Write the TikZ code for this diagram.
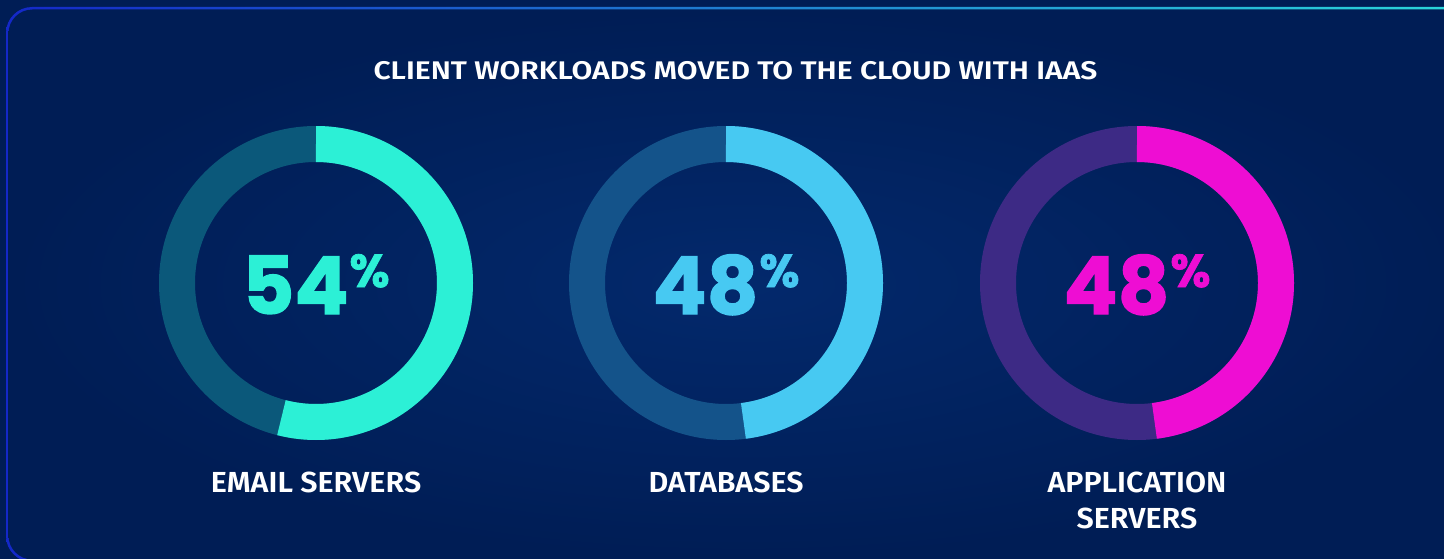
\documentclass[tikz,border=0pt]{standalone}
\usepackage{fontspec}
\newfontfamily\numfont{Poppins}[BoldFeatures={FakeBold=1.6}]
\newfontfamily\labfont{Fira Sans SemiBold}[FakeStretch=1.05]
\newfontfamily\titlefont{Fira Sans SemiBold}[FakeStretch=1.18]
\definecolor{bgdark}{HTML}{001D55}
\definecolor{bgmid}{HTML}{03296C}
\definecolor{bordblue}{HTML}{1428C8}
\definecolor{bordcyan}{HTML}{2AD8DA}
\definecolor{brightA}{HTML}{2CF0D6}
\definecolor{darkA}{HTML}{0B587A}
\definecolor{brightB}{HTML}{47C9F2}
\definecolor{darkB}{HTML}{14538A}
\definecolor{brightC}{HTML}{EE0DD3}
\definecolor{darkC}{HTML}{3D2A85}
\tikzset{
  ring/.style={line width=36pt},
  numtext/.style={anchor=base, inner sep=0pt, font=\numfont\bfseries\fontsize{80}{80}\selectfont},
  labtext/.style={anchor=base, inner sep=0pt, align=center, text=white, font=\labfont\fontsize{29}{36}\selectfont},
  titletext/.style={anchor=base, inner sep=0pt, text=white, font=\titlefont\fontsize{25.5}{30}\selectfont}
}
\newcommand{\pct}{\kern1pt\raisebox{27pt}{\fontsize{46}{46}\selectfont\%}}
\begin{document}
\begin{tikzpicture}[x=1pt,y=-1pt]
\useasboundingbox (0,0) rectangle (1444,559);
\fill[bgdark] (0,0) rectangle (1444,559);
\begin{scope}
  \clip (0,0) rectangle (1444,559);
  \shade[left color=bordblue, right color=bordcyan, rounded corners=26pt] (6,7) rectangle (1480,562);
  \shade[inner color=bgmid, outer color=bgdark, rounded corners=24pt] (8.5,9.5) rectangle (1477.5,559.5);
\end{scope}

\node[titletext] (title) at (735.5,80) {CLIENT WORKLOADS MOVED TO THE CLOUD WITH IAAS};

\coordinate (c1) at (316,283);
\coordinate (c2) at (726,283);
\coordinate (c3) at (1137,283);

% ring 1: 54%
\draw[ring, darkA] (c1) circle[radius=139];
\draw[ring, brightA] (c1) ++(0,-139) arc[start angle=-90, delta angle=194.4, radius=139];
% ring 2: 48%
\draw[ring, darkB] (c2) circle[radius=139];
\draw[ring, brightB] (c2) ++(0,-139) arc[start angle=-90, delta angle=172.8, radius=139];
% ring 3: 48%
\draw[ring, darkC] (c3) circle[radius=139];
\draw[ring, brightC] (c3) ++(0,-139) arc[start angle=-90, delta angle=172.8, radius=139];

\node[numtext, text=brightA] (n1) at (316,314) {54\pct};
\node[numtext, text=brightB] (n2) at (726,314) {48\pct};
\node[numtext, text=brightC] (n3) at (1137,314) {48\pct};

\node[labtext] (l1) at (316,492) {EMAIL SERVERS};
\node[labtext] (l2) at (726,492) {DATABASES};
\node[labtext] (l3) at (1137,528) {APPLICATION\\SERVERS};
\end{tikzpicture}
\end{document}
